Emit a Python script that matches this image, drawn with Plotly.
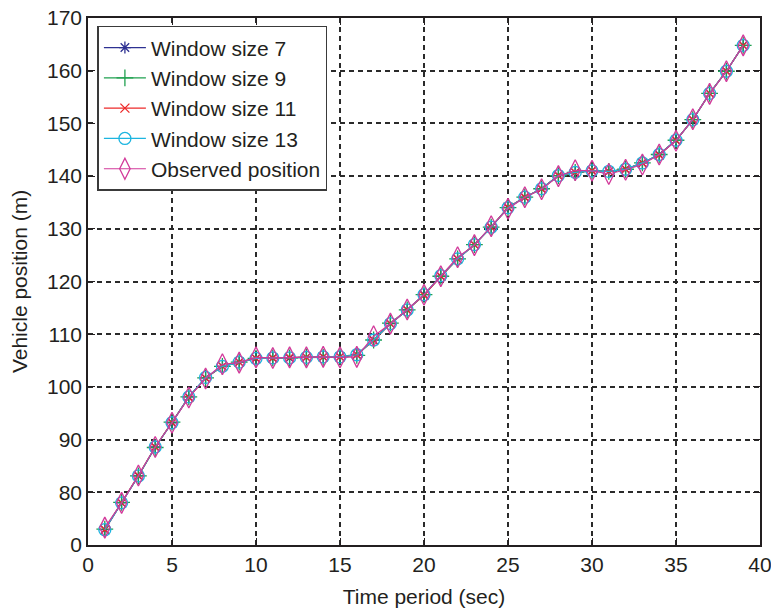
import plotly.graph_objects as go

# Time stamps (sec)
time_sec = list(range(1, 40))

# Observed vehicle position (m)
observed = [73.3, 78.0, 83.2, 88.6, 93.2, 98.0, 101.6, 104.3, 104.6, 105.6,
            105.5, 105.6, 105.6, 105.7, 105.6, 105.7, 109.6, 112.0, 114.7, 117.5,
            121.0, 124.6, 126.9, 130.5, 133.8, 136.0, 137.5, 140.0, 141.1, 141.0,
            140.4, 141.2, 142.2, 144.1, 146.7, 150.8, 155.6, 159.9, 164.8]

# Smoothed estimates for each window size
win7 = [72.9, 78.0, 83.1, 88.6, 93.2, 98.1, 101.7, 103.9, 104.7, 105.4,
        105.5, 105.5, 105.6, 105.7, 105.7, 106.1, 108.9, 112.0, 114.6, 117.5,
        121.0, 124.3, 127.0, 130.3, 134.0, 136.0, 137.6, 140.1, 140.7, 141.0,
        140.9, 141.3, 142.5, 144.1, 146.8, 150.7, 155.7, 159.9, 164.8]
win9 = [73.0, 78.1, 83.1, 88.5, 93.3, 98.1, 101.7, 103.9, 104.7, 105.4,
        105.5, 105.5, 105.6, 105.6, 105.7, 106.0, 108.9, 112.1, 114.6, 117.5,
        121.0, 124.3, 127.0, 130.3, 134.0, 136.0, 137.6, 140.1, 140.7, 141.0,
        140.9, 141.3, 142.5, 144.1, 146.8, 150.7, 155.7, 159.9, 164.8]
win11 = [72.9, 78.0, 83.2, 88.6, 93.2, 98.0, 101.7, 103.9, 104.7, 105.4,
         105.5, 105.6, 105.6, 105.7, 105.7, 106.1, 108.8, 112.0, 114.6, 117.4,
         121.0, 124.3, 127.0, 130.3, 134.1, 136.0, 137.6, 140.1, 140.7, 141.0,
         140.9, 141.3, 142.5, 144.0, 146.8, 150.7, 155.7, 159.9, 164.8]
win13 = [72.9, 78.0, 83.1, 88.6, 93.2, 98.1, 101.8, 103.9, 104.7, 105.4,
         105.5, 105.5, 105.6, 105.7, 105.7, 106.1, 108.9, 112.0, 114.6, 117.5,
         121.1, 124.3, 127.0, 130.3, 134.0, 136.0, 137.6, 140.1, 140.7, 141.0,
         140.9, 141.3, 142.5, 144.1, 146.8, 150.7, 155.7, 159.9, 164.8]

# Y axis ticks (bottom label reads "0")
y_tickvals = [70, 80, 90, 100, 110, 120, 130, 140, 150, 160, 170]
y_ticktext = ["0", "80", "90", "100", "110", "120", "130", "140", "150", "160", "170"]
x_tickvals = [0, 5, 10, 15, 20, 25, 30, 35, 40]

FONT = "Liberation Sans, Arial, sans-serif"
TXT = "#231f20"

series = [
    ("Window size 7", win7, "#2e3192", "asterisk-open", 10),
    ("Window size 9", win9, "#1fa04f", "cross-thin-open", 12),
    ("Window size 11", win11, "#ed2a2a", "x-thin-open", 9),
    ("Window size 13", win13, "#1cb5e0", "circle-open", 12),
    ("Observed position", observed, "#d2399a", "diamond-tall-open", 15),
]

fig = go.Figure()
for name, vals, color, sym, size in series:
    fig.add_trace(go.Scatter(
        x=time_sec, y=vals, name=name, mode="lines+markers",
        line=dict(color=color, width=1.2),
        marker=dict(symbol=sym, size=size, color=color,
                    line=dict(color=color, width=1.3)),
    ))

axis_common = dict(
    showline=True, linecolor="#231f20", linewidth=1.5, mirror="ticks",
    ticks="inside", ticklen=7, tickwidth=1.2, tickcolor="#231f20",
    showgrid=True, gridcolor="#2a2a2a", gridwidth=1.5, griddash="5px,4px",
    zeroline=False, automargin=False, ticklabeloverflow="allow",
    tickfont=dict(family=FONT, size=21, color=TXT),
)

fig.update_xaxes(range=[0, 40], tickvals=x_tickvals,
                 title=dict(text="Time period (sec)", standoff=14,
                            font=dict(family=FONT, size=21, color=TXT)),
                 **axis_common)
fig.update_yaxes(range=[70, 170], tickvals=y_tickvals, ticktext=y_ticktext,
                 title=dict(text="Vehicle position (m)", standoff=14,
                            font=dict(family=FONT, size=21, color=TXT)),
                 **axis_common)

fig.update_layout(
    width=771, height=613,
    margin=dict(l=88, r=11, t=18, b=68),
    paper_bgcolor="white", plot_bgcolor="white",
    showlegend=True,
    legend=dict(x=0.014, y=0.985, xanchor="left", yanchor="top",
                bgcolor="white", bordercolor="#3a3a3a", borderwidth=1.5,
                font=dict(family=FONT, size=21, color=TXT),
                tracegroupgap=0, itemwidth=42),
)

fig.write_html("out.html")
